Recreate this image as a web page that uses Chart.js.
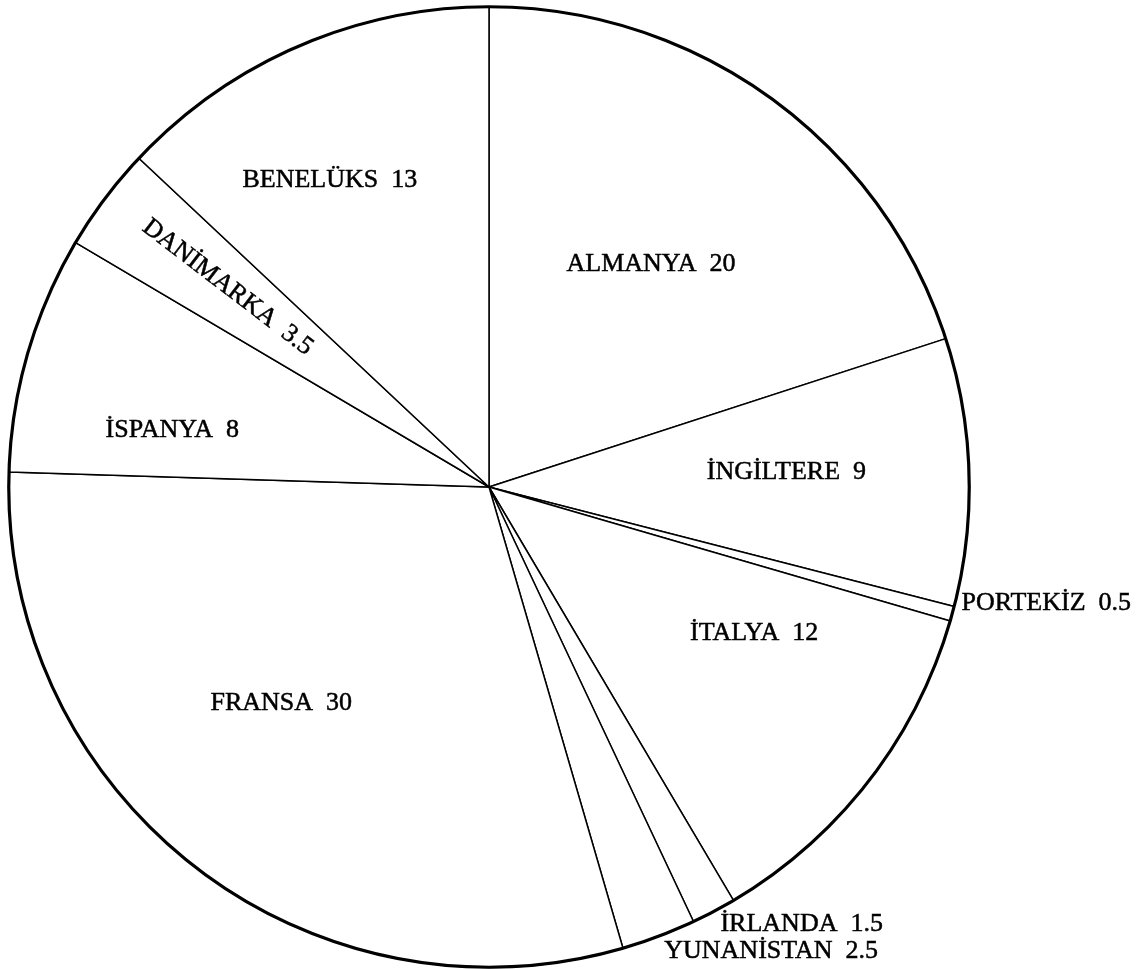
<!DOCTYPE html>
<html>
<head>
<meta charset="utf-8">
<script src="https://cdn.jsdelivr.net/npm/chart.js@4.4.1/dist/chart.umd.min.js"></script>
<style>
  html, body { margin: 0; padding: 0; background: #fff; overflow: hidden; }
  #wrap { position: relative; width: 1146px; height: 969px; }
</style>
</head>
<body>
<div id="wrap"><canvas id="pie"></canvas></div>
<script>
// slices, clockwise from the top
const countries = ['ALMANYA', 'İNGİLTERE', 'PORTEKİZ', 'İTALYA', 'İRLANDA', 'YUNANİSTAN', 'FRANSA', 'İSPANYA', 'DANİMARKA', 'BENELÜKS'];
const shares = [20, 9, 0.5, 12, 1.5, 2.5, 30, 8, 3.5, 13];

// where each label sits: fraction of radius, angle nudge (deg), alignment, rotate along slice
const labelSpots = [
    { r: 0.574, da: 0, align: 'center' },
    { r: 0.62, da: -1, align: 'center' },
    { r: 1.013, da: -1.5, align: 'left' },
    { r: 0.63, da: -9, align: 'center' },
    { r: 1.03, da: 0, align: 'left' },
    { r: 1.131, da: -10.6, align: 'center' },
    { r: 0.625, da: 6, align: 'center' },
    { r: 0.67, da: -6, align: 'center' },
    { r: 0.685, da: 0.5, align: 'center', rotate: true },
    { r: 0.72, da: -4, align: 'center' }
];

const pieLabels = {
    id: 'pieLabels',
    afterDatasetsDraw(chart) {
        const c = chart.ctx;
        const arcs = chart.getDatasetMeta(0).data;
        // heavier outer rim
        const a0 = arcs[0].getProps(['x', 'y', 'outerRadius'], true);
        c.save();
        c.beginPath();
        c.arc(a0.x, a0.y, a0.outerRadius, 0, Math.PI * 2);
        c.lineWidth = 3.2;
        c.strokeStyle = '#000';
        c.stroke();

        c.font = '26px "Liberation Serif", "Times New Roman", serif';
        c.fillStyle = '#000';
        c.strokeStyle = '#000';
        c.lineWidth = 0.5;
        c.textBaseline = 'middle';
        arcs.forEach((arc, i) => {
            const p = arc.getProps(['x', 'y', 'startAngle', 'endAngle', 'outerRadius'], true);
            const spot = labelSpots[i];
            const mid = (p.startAngle + p.endAngle) / 2 + spot.da * Math.PI / 180;
            const px = p.x + Math.cos(mid) * p.outerRadius * spot.r;
            const py = p.y + Math.sin(mid) * p.outerRadius * spot.r;
            const txt = countries[i] + '  ' + shares[i];
            c.save();
            c.translate(px, py);
            if (spot.rotate) c.rotate(mid - Math.PI);
            c.textAlign = spot.align;
            c.fillText(txt, 0, 0);
            c.strokeText(txt, 0, 0);
            c.restore();
        });
        c.restore();
    }
};

const ctx = document.getElementById('pie');
const pieChart = new Chart(ctx, {
    type: 'pie',
    data: {
        labels: countries,
        datasets: [{
            data: shares,
            backgroundColor: '#fff',
            borderColor: '#000',
            borderWidth: 1.5
        }]
    },
    options: {
        responsive: true,
        maintainAspectRatio: false,
        animation: false,
        layout: {
            padding: { left: 8, top: 6, right: 176, bottom: 1 }
        },
        plugins: {
            legend: { display: false },
            tooltip: { enabled: false }
        }
    },
    plugins: [pieLabels]
});
</script>
</body>
</html>
